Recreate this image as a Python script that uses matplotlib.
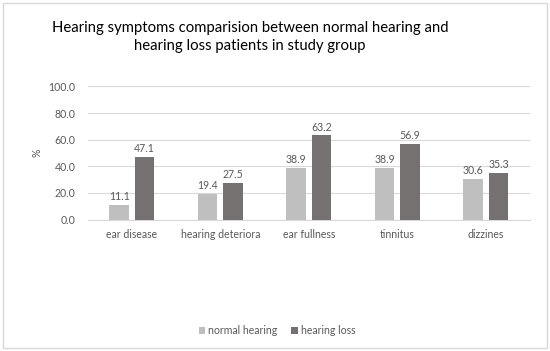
import numpy as np
import matplotlib.pyplot as plt
from matplotlib.patches import Rectangle

plt.rcParams['font.family'] = ['Lato', 'DejaVu Sans']

categories = ["ear disease", "hearing deteriora", "ear fullness", "tinnitus", "dizzines"]
normal_hearing = [11.1, 19.4, 38.9, 38.9, 30.6]
hearing_loss = [47.1, 27.5, 63.2, 56.9, 35.3]

light = "#bfbfbf"
dark = "#767171"
txt = "#595959"
fs = 7.6

fig = plt.figure(figsize=(5.5, 3.51), dpi=100)
ax = fig.add_axes([0.1595, 0.3746, 0.9636 - 0.1595, 0.7536 - 0.3746])

x = np.arange(len(categories))
w = 0.22
off = 0.144
b1 = ax.bar(x - off, normal_hearing, w, color=light, label="normal hearing", zorder=3)
b2 = ax.bar(x + off, hearing_loss, w, color=dark, label="hearing loss", zorder=3)

for bars, vals in ((b1, normal_hearing), (b2, hearing_loss)):
    for r, v in zip(bars, vals):
        ax.text(r.get_x() + r.get_width() / 2, v + 2, f"{v:.1f}", ha="center", va="bottom",
                fontsize=fs, color=txt, zorder=4)

ax.set_xlim(-0.5, len(categories) - 0.5)
ax.set_ylim(0, 100)
ax.set_yticks(np.arange(0, 101, 20))
ax.set_yticklabels([f"{v:.1f}" for v in np.arange(0, 101, 20)])
ax.set_xticks(x)
ax.set_xticklabels(categories)
ax.tick_params(length=0, labelsize=fs, labelcolor=txt)
ax.tick_params(axis="y", pad=9)
ax.tick_params(axis="x", pad=7)
ax.grid(axis="y", color="#d9d9d9", linewidth=0.8, zorder=0)
for s in ["top", "right", "left"]:
    ax.spines[s].set_visible(False)
ax.spines["bottom"].set_color("#d9d9d9")
ax.set_ylabel("%", fontsize=fs, color=txt, labelpad=4)

fig.text(250 / 550, 1 - 37 / 351, "Hearing symptoms comparision between normal hearing and\nhearing loss patients in study group",
         ha="center", va="center", fontsize=10.7, color="black", linespacing=1.3)

fig.legend(handles=[b1, b2], labels=["normal hearing", "hearing loss"], loc="center",
           bbox_to_anchor=(277 / 550, 1 - 331 / 351), ncol=2, frameon=False, fontsize=fs,
           labelcolor=txt, handlelength=0.6, handleheight=0.6, handletextpad=0.3, columnspacing=1.3)

fig.patches.append(Rectangle((3 / 550, 3 / 351), 544 / 550, 345 / 351, transform=fig.transFigure,
                             fill=False, edgecolor="#d9d9d9", linewidth=1))

fig.savefig("out.png", dpi=100)
